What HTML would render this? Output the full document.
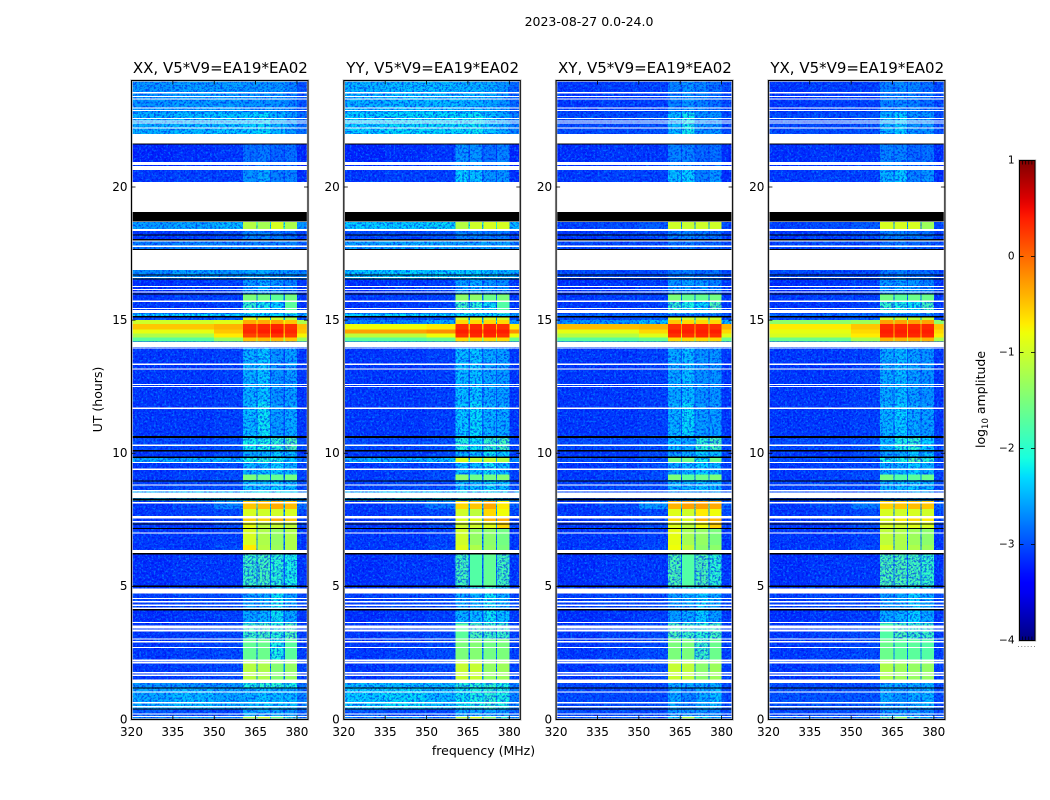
<!DOCTYPE html>
<html lang="en">
<head>
<meta charset="utf-8">
<title>2023-08-27 0.0-24.0</title>
<style>
html,body{margin:0;padding:0;background:#fff;}
svg{display:block;}
text{font-family:"DejaVu Sans","Liberation Sans",sans-serif;fill:#000;}
</style>
</head>
<body>
<svg id="chart" xmlns="http://www.w3.org/2000/svg" width="1050" height="800" viewBox="0 0 1050 800">
  <defs>
    <filter id="grain-light" x="0" y="0" width="1" height="1" color-interpolation-filters="sRGB">
      <feTurbulence type="fractalNoise" baseFrequency="0.48" numOctaves="2" seed="4"/>
      <feColorMatrix type="matrix" values="0 0 0 0 0  0 0 0 0 0.58  0 0 0 0 1  5 0 0 0 -2.6"/>
    </filter>
    <filter id="grain-dark" x="0" y="0" width="1" height="1" color-interpolation-filters="sRGB">
      <feTurbulence type="fractalNoise" baseFrequency="0.48" numOctaves="2" seed="11"/>
      <feColorMatrix type="matrix" values="0 0 0 0 0  0 0 0 0 0.03  0 0 0 0 0.92  5 0 0 0 -2.3"/>
    </filter>
  </defs>
  <text x="589" y="26" font-size="12.5" text-anchor="middle">2023-08-27 0.0-24.0</text>
  <text transform="translate(102 399.5) rotate(-90)" font-size="12.5" text-anchor="middle">UT (hours)</text>
  <text x="483.5" y="755" font-size="12.5" text-anchor="middle">frequency (MHz)</text>
  <text transform="translate(985 399.5) rotate(-90)" font-size="12.5" text-anchor="middle">log<tspan font-size="8.5" dy="3">10</tspan><tspan dy="-3"> amplitude</tspan></text>
  <g id="panels"></g>
  <g id="colorbar"></g>
</svg>
<script>
// ---- chart data -----------------------------------------------------------
const panelTitles = ['XX, V5*V9=EA19*EA02', 'YY, V5*V9=EA19*EA02', 'XY, V5*V9=EA19*EA02', 'YX, V5*V9=EA19*EA02'];
const xTickLabels = [320, 335, 350, 365, 380];
const yTickLabels = [0, 5, 10, 15, 20];
const colorTickLabels = [1, 0, -1, -2, -3, -4];

// Frequency bin edges in MHz: three background bins, four channels with notches, upper edge.
const freqEdges = [320, 335, 350, 360.5, 365.3, 365.7, 370.2, 370.6, 375.2, 375.6, 380, 384];
// Time-band edges in hours.
const timeEdges = [0, .11, .375, 1.2, 1.5, 2.25, 3, 3.6, 4.1, 4.95, 6.2, 6.56, 7.2, 7.43, 7.54, 7.9, 8.2, 8.6, 9, 9.2, 9.65, 9.88, 10.1, 10.6, 11.9, 13.96, 14.2, 14.35, 14.5, 14.65, 14.85, 15, 15.12, 15.25, 15.7, 15.98, 16.55, 16.88, 17.64, 18, 18.42, 18.71, 20.19, 20.63, 21.64, 22, 22.8, 24];

// log10 amplitude per time band: [bg1, bg2, bg3, ch1, ch2, ch3, ch4, edge]
const levelsXX = [
[-2.7,-2.6,-2.7,-1.3,-1.1,-1.6,-2,-2.6],[-2.9,-3,-3,-2.5,-2.5,-2.5,-2.6,-2.9],[-2.5,-2.4,-2.5,-2.45,-2.35,-2.4,-2.4,-2.7],[-2.6,-2.6,-2.6,-2.1,-2,-2,-2.1,-2.8],
[-3.1,-3.05,-3,-1.15,-1.2,-1.45,-1.35,-3.05],[-3.1,-3.05,-3,-1.65,-1.6,-2.1,-1.7,-3.05],[-3.1,-3.05,-3,-1.9,-1.85,-2,-1.8,-3.05],[-3.15,-3.1,-3.05,-2.5,-2.45,-2.2,-2.5,-3.1],
[-3.05,-3,-3,-2.55,-2.5,-2.2,-2.5,-3],[-3.15,-3.1,-3.1,-1.9,-1.85,-2,-2.1,-3.1],[-3.1,-3.1,-3,-.7,-1.15,-1.3,-1.2,-3.1],[-3.1,-3.1,-3.05,-.95,-1.2,-1.35,-1.2,-3.1],
[-3.1,-3.1,-3,-.85,-1.1,-1.05,-1.1,-3.05],[-3.1,-3.1,-3,-.55,-.55,-.35,-.5,-3.05],[-3.1,-3.05,-3,-.95,-1,-1,-.95,-3],[-3.1,-3,-2.7,-.5,-.45,-.35,-.45,-2.8],
[-2.4,-2.35,-2.3,-2.2,-2.2,-2.2,-2.3,-2.5],[-3.05,-3,-3,-2.4,-2.4,-2.3,-2.4,-3],[-3.1,-3.05,-3,-1.5,-1.6,-1.65,-1.55,-3.05],[-3.1,-3.05,-3,-2.45,-2.4,-2.3,-2.45,-3.05],
[-2.5,-2.5,-2.45,-2.1,-2,-2.1,-2.3,-2.8],[-3.1,-3.1,-3,-2.5,-2.45,-2.3,-2.4,-3.05],[-3,-3,-2.95,-2.15,-2.1,-2,-1.8,-3],[-3.1,-3.1,-3.05,-2.4,-2.2,-2.55,-2.5,-3.1],
[-3.1,-3.1,-3.05,-2.45,-2.35,-2.6,-2.55,-3.1],[-3,-3,-3,-2.9,-2.9,-2.9,-2.9,-3],[-1.7,-1.7,-1.3,-.5,-.45,-.45,-.5,-1.3],[-1.2,-1.2,-.7,.2,.25,.3,.25,-.75],
[-.85,-.85,-.5,.35,.4,.45,.35,-.5],[-.5,-.5,-.4,.3,.35,.35,.3,-.45],[-1,-1,-.9,-.35,-.35,-.35,-.5,-1.2],[-3,-3,-2.9,-.9,-.9,-1,-1.2,-3],[-2.3,-2.25,-2.25,-2.3,-2.3,-2.3,-2.3,-2.4],
[-3.1,-3.1,-3.05,-1.95,-2.15,-2.3,-1.7,-3.1],[-3.1,-3.05,-3.05,-1.5,-1.55,-1.7,-1.55,-3.1],[-3.15,-3.1,-3.05,-2.6,-2.5,-2.6,-2.7,-3.1],[-2.65,-2.55,-2.6,-2.5,-2.5,-2.6,-2.6,-2.7],
null,[-2.75,-2.7,-2.7,-2.7,-2.7,-2.7,-2.7,-2.9],[-3.1,-3.05,-3,-2.7,-2.7,-2.75,-2.8,-3.05],[-2.55,-2.5,-2.4,-1.15,-1.25,-.95,-1.2,-2.6],
null,[-3.1,-3.05,-3.05,-2.6,-2.5,-2.7,-2.7,-3.15],[-3.2,-3.15,-3.1,-2.8,-2.75,-2.85,-2.8,-3.2],null,[-2.45,-2.4,-2.35,-2.3,-2.25,-2.45,-2.55,-2.8],[-2.6,-2.55,-2.55,-2.6,-2.6,-2.6,-2.7,-2.95]
];
const levelsYY = [
[-2.7,-2.6,-2.7,-1.2,-1,-1.5,-2,-2.6],[-2.9,-3,-3,-2.5,-2.5,-2.5,-2.6,-2.9],[-2.3,-2.25,-2.4,-2.2,-2.1,-2,-2.1,-2.7],[-2.4,-2.4,-2.4,-2.05,-2,-1.95,-2.1,-2.7],
[-3.1,-3.05,-3,-1.05,-1.05,-1.35,-1.3,-3.05],[-3.1,-3.05,-3,-1.5,-1.45,-1.55,-1.5,-3.05],[-3.1,-3.05,-3,-1.7,-1.8,-1.9,-1.9,-3.05],[-3.15,-3.1,-3.05,-2.45,-2.4,-2.2,-2.4,-3.1],
[-3.05,-3,-3,-2.5,-2.45,-2.2,-2.45,-3],[-3.15,-3.1,-3.1,-1.85,-1.75,-1.65,-1.85,-3.1],[-3.1,-3.1,-3,-.9,-1.2,-1.35,-1.5,-3.1],[-3.1,-3.1,-3.05,-1,-1.35,-1.4,-1.55,-3.1],
[-3.1,-3.1,-3,-1,-1,-.9,-.6,-3.05],[-3.1,-3.1,-3,-.9,-.85,-.4,-.35,-3.05],[-3.1,-3.05,-3,-1,-1.1,-.6,-.8,-3],[-3.1,-3,-2.75,-.6,-.5,-.35,-.7,-2.9],
[-2.35,-2.3,-2.3,-2.2,-2.2,-2.2,-2.25,-2.5],[-3.05,-3,-3,-2.4,-2.4,-2.25,-2.4,-3],[-3.1,-3.05,-3,-1.4,-1.6,-1.55,-1.45,-3.05],[-3.1,-3.05,-3,-2.4,-2.4,-2.2,-2.4,-3.05],
[-2.5,-2.5,-2.4,-.95,-1.1,-1.1,-1.2,-2.7],[-3.1,-3.1,-3,-2.45,-2.4,-2.2,-2.3,-3.05],[-3,-3,-2.95,-2.05,-2.2,-1.95,-1.85,-3],[-3.1,-3.1,-3.05,-2.35,-2.25,-2.45,-2.5,-3.1],
[-3.1,-3.1,-3.05,-2.4,-2.35,-2.5,-2.55,-3.1],[-3,-3,-3,-2.9,-2.9,-2.9,-2.9,-3],[-1.7,-1.7,-1.6,-.6,-.6,-.6,-.6,-1.6],[-1.1,-1.1,-.8,.3,.35,.35,.3,-.8],
[-.3,-.3,-.2,.4,.4,.4,.4,-.2],[-.8,-.8,-.7,.3,.35,.35,.3,-.7],[-2.7,-2.7,-2.5,-.6,-.6,-.6,-.6,-2.6],[-3,-3,-2.9,-1,-1,-1,-1,-3],[-2.3,-2.25,-2.25,-2.3,-2.3,-2.3,-2.3,-2.4],
[-3.1,-3.1,-3.05,-1.9,-2,-2.2,-1.75,-3.1],[-3.1,-3.05,-3.05,-1.4,-1.4,-1.6,-1.5,-3.1],[-3.15,-3.1,-3.05,-2.55,-2.5,-2.6,-2.65,-3.1],[-2.35,-2.3,-2.3,-2.3,-2.3,-2.4,-2.4,-2.5],
null,[-2.55,-2.5,-2.5,-2.55,-2.55,-2.55,-2.55,-2.7],[-3,-3,-2.95,-2.7,-2.7,-2.75,-2.75,-3.05],[-2.3,-2.3,-2.25,-1.15,-1,-.95,-.95,-2.4],
null,[-3.1,-3.05,-3.05,-2.3,-2.35,-2.6,-2.6,-3.15],[-3.2,-3.15,-3.1,-2.6,-2.6,-2.8,-2.7,-3.2],null,[-2.3,-2.25,-2.25,-2.25,-2.2,-2.35,-2.5,-2.7],[-2.45,-2.4,-2.4,-2.45,-2.45,-2.5,-2.6,-2.85]
];
const levelsXY = [
[-2.9,-2.9,-2.9,-2.3,-1.3,-2.2,-2.5,-2.9],[-3,-3,-3,-2.6,-2.6,-2.6,-2.7,-3],[-3,-3,-3,-2.5,-2.7,-2.5,-2.4,-3],[-3,-3,-3,-2.5,-2.5,-2.5,-2.5,-3],
[-3.1,-3.05,-3,-1.05,-1.1,-1.4,-1.3,-3.05],[-3.1,-3.05,-3,-1.5,-1.5,-1.9,-1.6,-3.05],[-3.1,-3.05,-3,-1.8,-1.9,-2,-1.85,-3.05],[-3.15,-3.1,-3.05,-2.55,-2.5,-2.3,-2.55,-3.1],
[-3.05,-3,-3,-2.55,-2.5,-2.3,-2.5,-3],[-3.15,-3.1,-3.1,-1.8,-1.75,-1.8,-2,-3.1],[-3.1,-3.1,-3,-.8,-1.1,-1.4,-1.4,-3.1],[-3.1,-3.1,-3.05,-.85,-1.25,-1.35,-1.5,-3.1],
[-3.1,-3.1,-3,-.9,-1.1,-.8,-.55,-3.05],[-3.1,-3.1,-3,-.6,-.9,-.35,-.4,-3.05],[-3.1,-3.05,-3,-.9,-1,-.7,-.8,-3],[-3.1,-3,-2.6,-.4,-.3,-.3,-.35,-2.85],
[-3,-3,-3,-2.6,-2.6,-2.5,-2.55,-3],[-3.05,-3,-3,-2.45,-2.45,-2.35,-2.45,-3],[-3.1,-3.05,-3,-1.5,-1.7,-1.6,-1.5,-3.05],[-3.1,-3.05,-3,-2.5,-2.45,-2.3,-2.45,-3.05],
[-3,-3,-2.95,-1.55,-1.6,-2.1,-1.6,-3],[-3.1,-3.1,-3,-2.55,-2.5,-2.3,-2.4,-3.05],[-3,-3,-2.95,-2.4,-2.5,-2,-1.85,-3],[-3.1,-3.1,-3.05,-2.45,-2.25,-2.55,-2.55,-3.1],
[-3.1,-3.1,-3.05,-2.5,-2.4,-2.6,-2.6,-3.1],[-3,-3,-3,-2.9,-2.9,-2.9,-2.9,-3],[-1.7,-1.7,-1.6,-.6,-.6,-.6,-.6,-1.6],[-1.15,-1.15,-.9,.3,.3,.35,.3,-.9],
[-.85,-.85,-.6,.4,.4,.4,.4,-.6],[-.45,-.45,-.4,.3,.35,.35,.3,-.4],[-2.6,-2.6,-2.4,-.5,-.6,-.6,-.6,-2.4],[-3,-3,-2.9,-1,-1,-1,-1,-3],[-2.85,-2.8,-2.8,-2.8,-2.8,-2.8,-2.8,-2.9],
[-3.1,-3.1,-3.05,-1.95,-2.1,-2.25,-1.8,-3.1],[-3.1,-3.05,-3.05,-1.5,-1.65,-1.65,-1.55,-3.1],[-3.15,-3.1,-3.05,-2.6,-2.55,-2.6,-2.7,-3.1],[-3,-3,-3,-2.75,-2.7,-2.8,-2.8,-3],
null,[-3,-3,-3,-2.8,-2.75,-2.85,-2.85,-3],[-3.1,-3.05,-3,-2.7,-2.7,-2.75,-2.8,-3.05],[-3.05,-3,-2.9,-1,-1.05,-1,-1,-3],
null,[-3.1,-3.05,-3.05,-2.4,-2.3,-2.7,-2.6,-3.15],[-3.15,-3.1,-3.1,-2.7,-2.7,-2.85,-2.8,-3.15],null,[-3,-3,-2.95,-2.4,-2.15,-2.6,-2.6,-3],[-3.1,-3.05,-3.05,-2.7,-2.6,-2.7,-2.8,-3]
];
const levelsYX = [
[-2.8,-2.8,-2.8,-1.8,-1.5,-2.2,-2.5,-2.8],[-3,-3,-3,-2.6,-2.6,-2.6,-2.7,-3],[-2.95,-2.95,-2.95,-2.5,-2.6,-2.5,-2.45,-3],[-3,-3,-3,-2.5,-2.5,-2.5,-2.5,-3],
[-3.1,-3.05,-3,-1.2,-1.3,-1.35,-1.35,-3.05],[-3.1,-3.05,-3,-1.6,-1.7,-1.7,-1.75,-3.05],[-3.1,-3.05,-3,-1.75,-1.8,-1.9,-1.9,-3.05],[-3.15,-3.1,-3.05,-2.5,-2.45,-2.3,-2.5,-3.1],
[-3.05,-3,-3,-2.55,-2.5,-2.3,-2.5,-3],[-3.15,-3.1,-3.1,-1.8,-1.8,-1.85,-1.95,-3.1],[-3.1,-3.1,-3,-.95,-1.2,-1.2,-1.3,-3.1],[-3.1,-3.1,-3.05,-1.1,-1.2,-1.3,-1.4,-3.1],
[-3.1,-3.1,-3,-.95,-1,-.9,-.95,-3.05],[-3.1,-3.1,-3,-.9,-.7,-.6,-.7,-3.05],[-3.1,-3.05,-3,-.95,-1,-.95,-1,-3],[-3.1,-3,-2.75,-.55,-.5,-.45,-.5,-2.9],
[-3,-3,-3,-2.6,-2.55,-2.5,-2.55,-3],[-3.05,-3,-3,-2.45,-2.4,-2.35,-2.45,-3],[-3.1,-3.05,-3,-1.55,-1.75,-1.7,-1.6,-3.05],[-3.1,-3.05,-3,-2.5,-2.45,-2.3,-2.45,-3.05],
[-3,-3,-2.95,-2.1,-2.1,-1.8,-2,-3],[-3.1,-3.1,-3,-2.55,-2.5,-2.3,-2.4,-3.05],[-3,-3,-2.95,-2.4,-2.1,-2,-2.3,-3],[-3.1,-3.1,-3.05,-2.45,-2.3,-2.5,-2.55,-3.1],
[-3.1,-3.1,-3.05,-2.5,-2.4,-2.55,-2.6,-3.1],[-3,-3,-3,-2.9,-2.9,-2.9,-2.9,-3],[-1.6,-1.6,-1.2,-.4,-.4,-.4,-.4,-1.2],[-.95,-.95,-.7,.35,.35,.35,.35,-.7],
[-.85,-.85,-.6,.4,.4,.4,.4,-.6],[-.7,-.7,-.5,.35,.35,.35,.35,-.5],[-1.4,-1.4,-1.3,-.3,-.3,-.3,-.3,-1.4],[-3,-3,-2.9,-1,-1.1,-1.1,-1.1,-3],[-2.85,-2.8,-2.8,-2.8,-2.8,-2.8,-2.8,-2.9],
[-3.1,-3.1,-3.05,-1.95,-2.1,-2.2,-1.85,-3.1],[-3.1,-3.05,-3.05,-1.55,-1.7,-1.6,-1.6,-3.1],[-3.15,-3.1,-3.05,-2.6,-2.55,-2.6,-2.7,-3.1],[-3,-3,-3,-2.75,-2.7,-2.8,-2.8,-3],
null,[-3,-3,-3,-2.8,-2.75,-2.85,-2.85,-3],[-3.1,-3.05,-3,-2.7,-2.7,-2.75,-2.8,-3.05],[-3.05,-3,-2.9,-.95,-.95,-.95,-1.3,-3],
null,[-3.1,-3.05,-3.05,-2.45,-2.35,-2.7,-2.6,-3.15],[-3.15,-3.1,-3.1,-2.7,-2.7,-2.85,-2.8,-3.15],null,[-3,-3,-2.95,-2.45,-2.3,-2.6,-2.6,-3],[-3.1,-3.05,-3.05,-2.7,-2.65,-2.7,-2.8,-3]
];
const panelLevels = [levelsXX, levelsYY, levelsXY, levelsYX];

// Flagged times, in hours: blank (white) rows and zero-amplitude (black) rows.
const blankHours = [[.09,.13],[.18,.22],[.45,.5],[.6,.65],[1.01,1.06],[1.37,1.42],[1.43,1.5],[1.64,1.69],[1.73,1.78],[2.11,2.17],[2.2,2.25],[2.68,2.73],[2.9,2.95],[3,3.05],[3.31,3.375],[3.42,3.53],[3.62,3.67],[4.15,4.2],[4.26,4.31],[4.4,4.45],[4.52,4.57],[4.725,4.92],[6.25,6.375],[6.98,7.03],[7.4,7.45],[7.54,7.65],[8.11,8.16],[8.325,8.52],[8.57,8.62],[8.78,8.83],[9.38,9.43],[9.63,9.68],[10.28,10.33],[11.67,11.72],[12.49,12.53],[12.56,12.6],[13.14,13.19],[13.32,13.37],[13.93,13.97],[14,14.18],[15.26,15.38],[15.42,15.46],[15.69,15.73],[16.03,16.07],[16.13,16.17],[16.24,16.28],[16.58,16.62],[16.88,17.64],[17.74,17.81],[17.96,18],[18.34,18.42],[18.69,18.73],[19.06,20.19],[20.63,20.79],[20.83,20.93],[21.64,22],[22.19,22.23],[22.39,22.43],[22.46,22.5],[22.55,22.59],[22.85,22.89],[22.95,22.99],[23.29,23.33],[23.38,23.42],[23.52,23.56]];
const zeroHours = [[.37,.42],[1.16,1.21],[4.1,4.15],[4.98,5.03],[6.2,6.25],[7.16,7.2],[7.33,7.37],[8.23,8.3],[8.93,8.97],[9.83,9.87],[10.07,10.13],[10.57,10.64],[15.1,15.15],[15.96,16],[16.52,16.56],[16.68,16.72],[17.64,17.68],[18,18.04],[18.18,18.22],[18.71,19.06],[21.6,21.64]];

// ---- layout and scales ----------------------------------------------------
const plotTop = 80.5, plotBottom = 719.5, plotWidth = 176.5;
const firstLeft = 131.5, panelStep = 212.3;
const freqMin = 320, freqMax = 384, hourMin = 0, hourMax = 24;
const colorMin = -4, colorMax = 1, barLeft = 1019.5, barWidth = 15.5, barTop = 160.5, barBottom = 640.5;

function panelLeft(p) { return firstLeft + p * panelStep; }
function xOf(p, mhz) { return panelLeft(p) + (mhz - freqMin) / (freqMax - freqMin) * plotWidth; }
function yOf(h) { return plotBottom - (h - hourMin) / (hourMax - hourMin) * (plotBottom - plotTop); }
function barY(v) { return barBottom - (v - colorMin) / (colorMax - colorMin) * (barBottom - barTop); }
function ramp(x, pts) {
  for (let i = 1; i < pts.length; i++) {
    if (x <= pts[i][0]) {
      const a = pts[i - 1], b = pts[i];
      return a[1] + (b[1] - a[1]) * (x - a[0]) / (b[0] - a[0]);
    }
  }
  return pts[pts.length - 1][1];
}
const jetR = [[0, 0], [.35, 0], [.66, 1], [.89, 1], [1, .5]];
const jetG = [[0, 0], [.125, 0], [.375, 1], [.64, 1], [.91, 0], [1, 0]];
const jetB = [[0, .5], [.11, 1], [.34, 1], [.65, 0], [1, 0]];
function jet(v) {
  const x = Math.max(0, Math.min(1, (v - colorMin) / (colorMax - colorMin)));
  const c = [ramp(x, jetR), ramp(x, jetG), ramp(x, jetB)].map(function (u) { return Math.round(u * 255); });
  return 'rgb(' + c.join(',') + ')';
}

const SVGNS = 'http://www.w3.org/2000/svg';
function make(tag, parent, geometry) {
  const el = document.createElementNS(SVGNS, tag);
  for (const k in geometry) el.setAttribute(k, geometry[k]);
  parent.appendChild(el);
  return el;
}
// Maps a frequency column to the value it shows for a band row.
function columnValue(row, col) {
  const channelIndex = { 3: 3, 5: 4, 7: 5, 9: 6 };
  if (col < 3) return row[col];
  if (col === 10) return row[7];
  if (channelIndex[col] !== undefined) return row[channelIndex[col]];
  const neighbour = row[channelIndex[col - 1]];
  return row[2] + 0.2 * (neighbour - row[2]);
}

// ---- panels ---------------------------------------------------------------
const panelsRoot = document.getElementById('panels');
panelTitles.forEach(function (title, p) {
  const group = make('g', panelsRoot, {});
  
  

  const left = panelLeft(p);
  const base = make('rect', group, { x: left, y: plotTop, width: plotWidth, height: plotBottom - plotTop, fill: '#fff' });
  
  

  const lowCells = make('g', group, { 'shape-rendering': 'crispEdges' });
  
  

  const grainDark = make('rect', group, { x: left, y: plotTop, width: plotWidth, height: plotBottom - plotTop, filter: 'url(#grain-dark)', opacity: .6 });
  
  
  const grainLight = make('rect', group, { x: left, y: plotTop, width: plotWidth, height: plotBottom - plotTop, filter: 'url(#grain-light)', opacity: .6 });
  
  

  const highCells = make('g', group, { 'shape-rendering': 'crispEdges' });
  
  

  panelLevels[p].forEach(function (row, r) {
    if (!row) return;
    for (let c = 0; c < freqEdges.length - 1; c++) {
      const value = columnValue(row, c);
      const top = yOf(timeEdges[r + 1]), bottom = yOf(timeEdges[r]);
      const x0 = xOf(p, freqEdges[c]), x1 = xOf(p, freqEdges[c + 1]);
      const cell = make('rect', value < -1.75 ? lowCells : highCells, { x: x0, y: top, width: x1 - x0, height: bottom - top, fill: jet(value) });
      
      
    }
  });

  const flags = make('g', group, { 'shape-rendering': 'crispEdges' });
  
  
  blankHours.forEach(function (span) {
    const blank = make('rect', flags, { x: left, y: yOf(span[1]), width: plotWidth, height: yOf(span[0]) - yOf(span[1]), fill: '#fff' });
    
    
  });
  zeroHours.forEach(function (span) {
    const zero = make('rect', flags, { x: left, y: yOf(span[1]), width: plotWidth, height: yOf(span[0]) - yOf(span[1]), fill: '#000' });
    
    
  });

  const halo = make('rect', group, { x: left, y: plotTop, width: plotWidth, height: plotBottom - plotTop, fill: 'none', stroke: '#c4c4c4', 'stroke-width': 2.4 });
  
  
  const frame = make('rect', group, { x: left, y: plotTop, width: plotWidth, height: plotBottom - plotTop, fill: 'none', stroke: '#000', 'stroke-width': 1 });
  
  

  const heading = make('text', group, { x: left + plotWidth / 2 + .6, y: 73, 'font-size': 15, 'text-anchor': 'middle' });
  heading.textContent = title;
  
  

  xTickLabels.forEach(function (tick) {
    const x = xOf(p, tick);
    [[plotBottom, plotBottom - 4], [plotTop, plotTop + 4]].forEach(function (ends) {
      const mark = make('line', group, { x1: x, x2: x, y1: ends[0], y2: ends[1], stroke: '#000', 'stroke-width': .8 });
      
      
    });
    const label = make('text', group, { x: x, y: 736, 'font-size': 12, 'text-anchor': 'middle' });
    label.textContent = tick;
    
    
  });

  yTickLabels.forEach(function (tick) {
    const y = yOf(tick);
    [[left, left + 4], [left + plotWidth, left + plotWidth - 4]].forEach(function (ends) {
      const mark = make('line', group, { x1: ends[0], x2: ends[1], y1: y, y2: y, stroke: '#000', 'stroke-width': .8 });
      
      
    });
    const label = make('text', group, { x: left - 4, y: y + 3.8, 'font-size': 12, 'text-anchor': 'end' });
    label.textContent = tick;
    
    
  });
});

// ---- colorbar -------------------------------------------------------------
const barRoot = document.getElementById('colorbar');
const defs = document.querySelector('defs');
const gradient = make('linearGradient', defs, { id: 'jet-gradient', x1: 0, y1: 1, x2: 0, y2: 0 });
for (let i = 0; i <= 50; i++) {
  make('stop', gradient, { offset: i / 50, 'stop-color': jet(colorMin + (colorMax - colorMin) * i / 50) });
}
const barHalo = make('rect', barRoot, { x: barLeft, y: barTop, width: barWidth, height: barBottom - barTop, fill: 'none', stroke: '#c4c4c4', 'stroke-width': 2.4 });


const barFill = make('rect', barRoot, { x: barLeft, y: barTop, width: barWidth, height: barBottom - barTop, fill: 'url(#jet-gradient)', stroke: '#000', 'stroke-width': 1 });



colorTickLabels.forEach(function (tick) {
  const y = barY(tick);
  [[barLeft, barLeft + 4], [barLeft + barWidth, barLeft + barWidth - 4]].forEach(function (ends) {
    const mark = make('line', barRoot, { x1: ends[0], x2: ends[1], y1: y, y2: y, stroke: '#000', 'stroke-width': .8 });
    
    
  });
  const label = make('text', barRoot, { x: barLeft - 5, y: y + 3.2, 'font-size': 10.5, 'text-anchor': 'end' });
  label.textContent = String(tick).replace('-', '\u2212');
  
  
});

[barTop, barBottom].forEach(function (edge) {
  for (let i = 1; i <= 4; i++) {
    const x = barLeft + barWidth * i / 5;
    const direction = edge === barTop ? 4 : -4;
    const minor = make('line', barRoot, { x1: x, x2: x, y1: edge, y2: edge + direction, stroke: '#000', 'stroke-width': .7 });
    
    
  }
});
for (let i = 0; i <= 5; i++) {
  const dot = make('rect', barRoot, { x: 1018 + i * 3.2, y: 646, width: 1, height: 1, fill: '#888' });
  
  
}
</script>
</body>
</html>
